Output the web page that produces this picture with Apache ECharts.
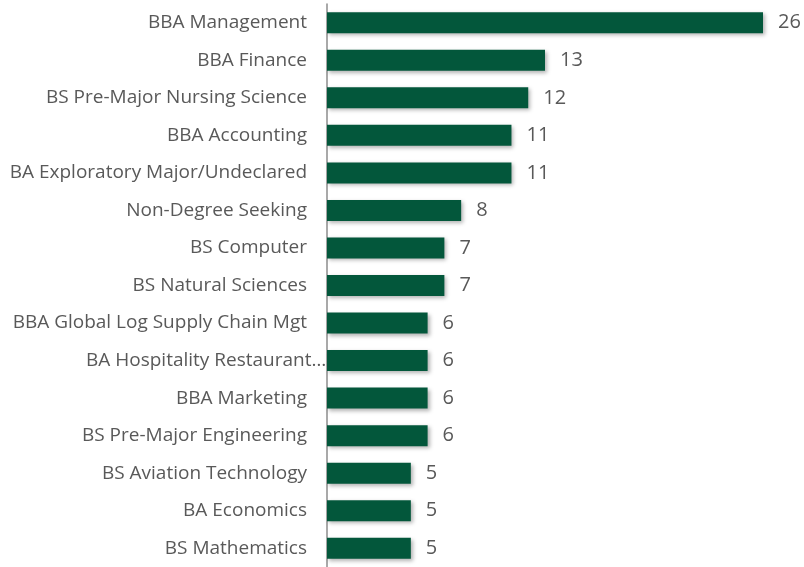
<!DOCTYPE html>
<html><head><meta charset="utf-8">
<script src="https://cdn.jsdelivr.net/npm/echarts@6/dist/echarts.min.js"></script>
<style>html,body{margin:0;padding:0;background:#fff}#c{width:804px;height:567px}</style>
</head><body><div id="c"></div>
<script>
const categories = ["BBA Management","BBA Finance","BS Pre-Major Nursing Science","BBA Accounting","BA Exploratory Major/Undeclared","Non-Degree Seeking","BS Computer","BS Natural Sciences","BBA Global Log Supply Chain Mgt","BA Hospitality Restaurant…","BBA Marketing","BS Pre-Major Engineering","BS Aviation Technology","BA Economics","BS Mathematics"];
const values = [26,13,12,11,11,8,7,7,6,6,6,6,5,5,5];

const chart = echarts.init(document.getElementById('c'));
chart.setOption({
  animation:false,
  grid:{left:327,right:41,top:4,bottom:-1,containLabel:false},
  xAxis:{type:'value',min:0,max:26,show:false},
  yAxis:{type:'category',data:categories,inverse:true,
    axisLine:{show:true,lineStyle:{color:'#8c8c8c',width:1.5}},
    axisTick:{show:false},
    axisLabel:{color:'#595959',fontSize:19,fontFamily:'Open Sans',margin:20,
      formatter:function(v){return v.indexOf('…')>=0 ? '{h|'+v+'}' : v;},
      rich:{h:{color:'#595959',fontSize:19,fontFamily:'Open Sans',width:221,align:'left',overflow:'none'}}
    }
  },
  series:[{type:'bar',data:values,barWidth:21,
    itemStyle:{color:'#03573b',shadowBlur:4,shadowColor:'rgba(0,0,0,0.3)',shadowOffsetX:2,shadowOffsetY:2},
    label:{show:true,position:'right',distance:15,color:'#595959',fontSize:20,fontFamily:'Open Sans'}
  }]
});
</script></body></html>
